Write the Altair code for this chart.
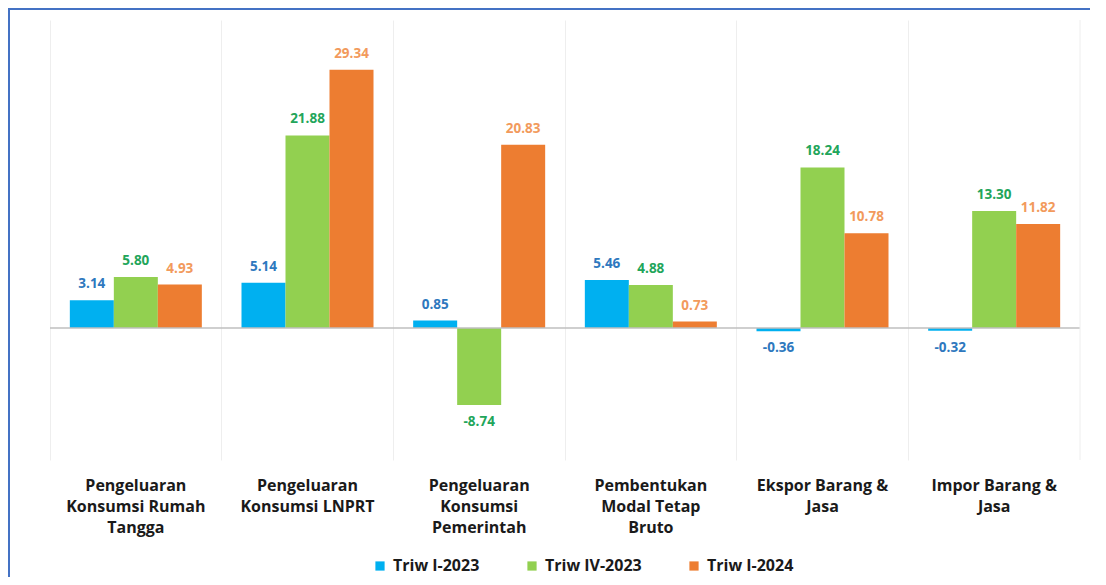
import altair as alt
import pandas as pd

# ---- data ----
categories = [
    "Pengeluaran\nKonsumsi Rumah\nTangga",
    "Pengeluaran\nKonsumsi LNPRT",
    "Pengeluaran\nKonsumsi\nPemerintah",
    "Pembentukan\nModal Tetap\nBruto",
    "Ekspor Barang &\nJasa",
    "Impor Barang &\nJasa",
]
series = ["Triw I-2023", "Triw IV-2023", "Triw I-2024"]
triw_i_2023 = [3.14, 5.14, 0.85, 5.46, -0.36, -0.32]
triw_iv_2023 = [5.80, 21.88, -8.74, 4.88, 18.24, 13.30]
triw_i_2024 = [4.93, 29.34, 20.83, 0.73, 10.78, 11.82]

rows = []
for s, vals in zip(series, [triw_i_2023, triw_iv_2023, triw_i_2024]):
    for c, v in zip(categories, vals):
        rows.append({"category": c, "series": s, "value": v})
df = pd.DataFrame(rows)
one = pd.DataFrame({"k": [0]})

# ---- style ----
bar_colors = ["#00B0F0", "#92D050", "#ED7D31"]
label_colors = ["#2E78BE", "#22A55A", "#F29A5C"]
FONT = "Open Sans"
W, H = 1030, 440
BAR_W = 44
PAD = {"left": 42, "top": 12, "right": 10, "bottom": 117}

x_enc = alt.X(
    "category:N",
    sort=categories,
    title=None,
    scale=alt.Scale(domain=categories, paddingInner=0, paddingOuter=0),
    axis=alt.Axis(
        labelExpr="split(datum.label, '\\n')",
        labelFont=FONT,
        labelFontSize=16,
        labelFontWeight="bold",
        labelColor="#1a1a1a",
        labelLineHeight=21,
        labelPadding=17,
        labelAngle=0,
        domain=False,
        ticks=False,
        grid=True,
        gridColor="#eeeeee",
        gridWidth=1,
        bandPosition=0,
    ),
)
y_scale = alt.Scale(domain=[-15, 35], nice=False, zero=True)
y_enc = alt.Y("value:Q", scale=y_scale, axis=None)

color_enc = alt.Color(
    "series:N",
    sort=series,
    scale=alt.Scale(domain=series, range=bar_colors),
    legend=alt.Legend(
        title=None,
        orient="none",
        legendX=322,
        legendY=538,
        direction="horizontal",
        symbolType="square",
        symbolSize=85,
        symbolStrokeWidth=0,
        symbolOffset=0,
        labelFont=FONT,
        labelFontSize=16,
        labelFontWeight="bold",
        labelColor="#1a1a1a",
        labelOffset=5,
        columnPadding=44,
    ),
)

label_text = "replace(format(datum.value, '.2f'), '\u2212', '-')"

layers = []
for j, s in enumerate(series):
    sub = alt.Chart(df).transform_filter(alt.datum.series == s)
    off = (j - 1) * BAR_W
    layers.append(
        sub.mark_bar(width=BAR_W, xOffset=off).encode(x=x_enc, y=y_enc, color=color_enc)
    )

zero_line = alt.Chart(one).mark_rule(color="#bfbfbf", strokeWidth=1.5).encode(
    y=alt.YDatum(0, axis=None)
)
layers.append(zero_line)

for j, s in enumerate(series):
    sub = alt.Chart(df).transform_filter(alt.datum.series == s).transform_calculate(
        lbl=label_text
    )
    off = (j - 1) * BAR_W
    layers.append(
        sub.transform_filter("datum.value >= 0")
        .mark_text(xOffset=off, dy=-16, font=FONT, fontSize=13.5, fontWeight="bold",
                   baseline="middle", color=label_colors[j])
        .encode(x=x_enc, y=y_enc, text="lbl:N")
    )
    layers.append(
        sub.transform_filter("datum.value < 0")
        .mark_text(xOffset=off, dy=17, font=FONT, fontSize=13.5, fontWeight="bold",
                   baseline="middle", color=label_colors[j])
        .encode(x=x_enc, y=y_enc, text="lbl:N")
    )

right_grid = alt.Chart(one).mark_rule(color="#eeeeee").encode(
    x=alt.value(W), y=alt.value(0), y2=alt.value(H)
)
border_top = alt.Chart(one).mark_rule(color="#4472C4", strokeWidth=2).encode(
    x=alt.value(-PAD["left"]), x2=alt.value(W + PAD["right"]), y=alt.value(-11)
)
border_left = alt.Chart(one).mark_rule(color="#4472C4", strokeWidth=2).encode(
    x=alt.value(-PAD["left"] + 1), y=alt.value(-11), y2=alt.value(H + PAD["bottom"])
)
layers += [right_grid, border_top, border_left]

chart = (
    alt.layer(*layers)
    .properties(
        width=W,
        height=H,
        padding=PAD,
        autosize=alt.AutoSizeParams(type="none"),
        background="white",
    )
    .configure_view(stroke=None)
)

chart.save("out.html", embed_options={"renderer": "svg", "actions": False})
